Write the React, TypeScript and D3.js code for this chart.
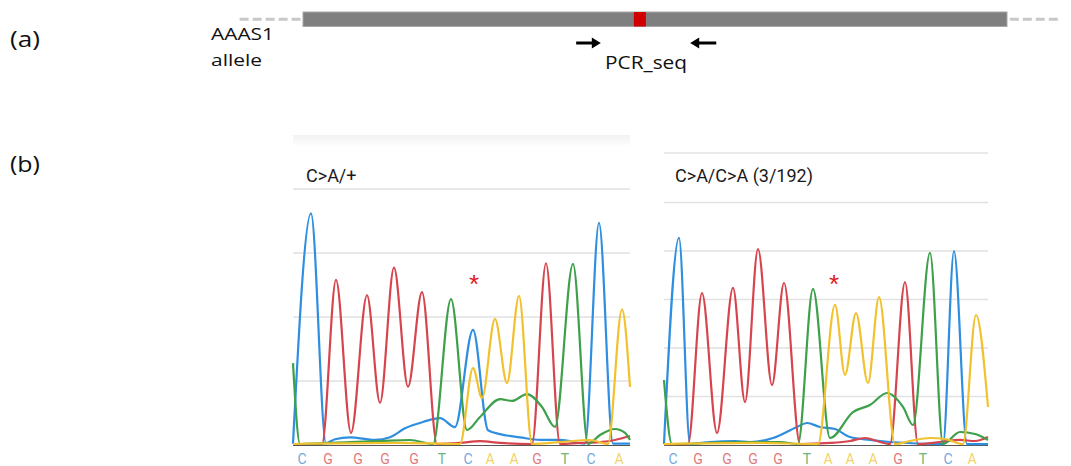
import React, { useEffect, useRef } from "react";
import * as d3 from "d3";

const W = 1071;
const H = 466;

// (a) AAAS1 allele map, positions in bp
const alleleSpan = [0, 1000];
const flankLeft = [-90, -2];
const flankRight = [1004, 1075];
const mutationSite = [470, 487];
const primerFwd = [388, 423];
const primerRev = [587, 550];

// (b) chromatograms, points are [scan, signal]
// heterozygous C>A/+
const hetBlue = [[0, 10], [9, 1810], [16.5, 15], [21, 45], [28.5, 60], [41, 40], [48.5, 60], [56, 130], [65, 180], [73.5, 210], [81, 140], [90, 900], [97.5, 115], [103.5, 85], [113.5, 60], [123.5, 40], [133.5, 40], [146, 10], [153, 1735], [160, 10], [168.5, 10]];
const hetRed = [[0, 8], [14.5, 8], [21.5, 1290], [29, 95], [37, 1170], [43.5, 330], [50.5, 1385], [57.5, 455], [64.5, 1195], [72, 8], [83.5, 16], [93.5, 30], [103.5, 16], [119.5, 8], [126.5, 1420], [133.5, 8], [143.5, 16], [153.5, 23], [161, 39], [168.5, 70]];
const hetGreen = [[0, 640], [3.5, 8], [28.5, 23], [43.5, 31], [58.5, 39], [70, 8], [79, 1140], [87, 117], [93.5, 219], [103.5, 359], [109.5, 344], [117, 398], [124.5, 297], [131, 141], [140, 1415], [147.5, 8], [153.5, 78], [161, 125], [166, 94], [168.5, 39]];
const hetYellow = [[0, 8], [53.5, 16], [83.5, 8], [90, 600], [94.5, 367], [101, 985], [107, 484], [113, 1165], [119.5, 8], [133.5, 23], [148.5, 39], [157.5, 8], [164.5, 1060], [168.5, 453]];
const hetCalls = ["C", "G", "G", "G", "G", "T", "C", "A", "A", "G", "T", "C", "A"];
const hetCallScan = [4.5, 17.5, 32.5, 46, 60.5, 74.5, 87.5, 98.5, 110.5, 122, 136, 149, 163];
const hetTicks = [500, 1000, 1500, 2000];

// homozygous C>A/C>A
const homBlue = [[0, 10], [7.5, 2135], [13, 10], [23, 31], [35.5, 41], [43, 31], [54.5, 72], [66.5, 186], [71.5, 227], [78, 186], [85.5, 165], [93, 82], [103, 52], [113, 31], [139.5, 10], [145, 2000], [151.5, 10], [162, 10]];
const homRed = [[0, 10], [12, 10], [19, 1565], [26.5, 124], [34.5, 1620], [40.5, 443], [47, 2020], [54, 619], [60, 1670], [68, 10], [83, 21], [93, 41], [100.5, 72], [108, 31], [113, 10], [120.5, 1680], [127, 10], [138, 31], [148, 52], [155.5, 41], [162, 82]];
const homGreen = [[0, 670], [4, 10], [38, 31], [58, 31], [67, 10], [74.5, 1610], [83, 72], [94.5, 340], [103, 412], [111.5, 536], [119.5, 392], [124.5, 206], [133, 1980], [139.5, 10], [148, 134], [155.5, 113], [162, 52]];
const homYellow = [[0, 10], [48, 21], [77, 10], [85.5, 1445], [90.5, 722], [96, 1360], [102, 639], [107.5, 1525], [115.5, 10], [123, 41], [133, 72], [140.5, 62], [149.5, 10], [156, 1340], [162, 392]];
const homCalls = ["C", "G", "G", "G", "G", "T", "A", "A", "A", "G", "T", "C", "A"];
const homCallScan = [4.5, 17, 31.5, 44.5, 57, 71.5, 82, 93, 104.5, 117, 129.5, 142, 154];
const homTicks = [500, 1000, 1500, 2000, 2500];

const traceColor = { A: "#f2c12e", C: "#2e8ee0", G: "#d6454d", T: "#3ea04a" };
const callColor = { A: "#f3d46a", C: "#72a9dc", G: "#e2797c", T: "#6fb577" };

export default function App() {
  const ref = useRef(null);

  useEffect(() => {
    const svg = d3.select(ref.current);
    svg.selectAll("*").remove();

    const defs = svg.append("defs");
    const fade = defs.append("linearGradient").attr("id", "headerFade")
      .attr("x1", 0).attr("y1", 0).attr("x2", 0).attr("y2", 1);
    fade.append("stop").attr("offset", "0%").attr("stop-color", "#f2f2f2");
    fade.append("stop").attr("offset", "100%").attr("stop-color", "#ffffff");

    // ---------- (a) ----------
    const labelFont = "'Open Sans', 'Noto Sans', sans-serif";
    const label = (txt, x, y, size, len) =>
      svg.append("text").attr("x", x).attr("y", y).attr("font-family", labelFont)
        .attr("font-weight", 400).attr("font-size", size).attr("fill", "#111")
        .attr("textLength", len).attr("lengthAdjust", "spacingAndGlyphs").text(txt);

    label("(a)", 10, 47, 21, 30);
    label("(b)", 10, 172, 21, 30);
    label("AAAS1", 211, 40, 16, 63);
    label("allele", 211, 66, 16, 51);
    label("PCR_seq", 605, 69, 19, 82);

    const gx = d3.scaleLinear().domain(alleleSpan).range([303, 1007]);
    const barTop = 12, barH = 14.5, barMid = barTop + barH / 2;

    [flankLeft, flankRight].forEach(f => {
      svg.append("line").attr("x1", gx(f[0])).attr("x2", gx(f[1]))
        .attr("y1", barMid).attr("y2", barMid)
        .attr("stroke", "#c8c8c8").attr("stroke-width", 3).attr("stroke-dasharray", "9,4");
    });
    svg.append("rect").attr("x", gx(alleleSpan[0])).attr("y", barTop)
      .attr("width", gx(alleleSpan[1]) - gx(alleleSpan[0])).attr("height", barH)
      .attr("fill", "#7f7f7f").attr("stroke", "#a8a8a8").attr("stroke-width", 1);
    svg.append("rect").attr("x", gx(mutationSite[0])).attr("y", barTop)
      .attr("width", gx(mutationSite[1]) - gx(mutationSite[0])).attr("height", barH)
      .attr("fill", "#d00000");

    const arrowY = 43;
    [primerFwd, primerRev].forEach(p => {
      const x0 = gx(p[0]), x1 = gx(p[1]);
      const dir = Math.sign(x1 - x0);
      const head = 9;
      svg.append("line").attr("x1", x0).attr("x2", x1 - dir * head + dir)
        .attr("y1", arrowY).attr("y2", arrowY).attr("stroke", "#000").attr("stroke-width", 3);
      svg.append("path")
        .attr("d", `M${x1},${arrowY} L${x1 - dir * head},${arrowY - 5.5} L${x1 - dir * head},${arrowY + 5.5} Z`)
        .attr("fill", "#000");
    });

    // ---------- (b) ----------
    const panels = [
      {
        left: 293, right: 630, top: 135, base: 445, plotTop: 189, scanMax: 168.5,
        ticks: hetTicks, title: "C>A/+", titleX: 306,
        traces: [["C", hetBlue], ["G", hetRed], ["T", hetGreen], ["A", hetYellow]],
        calls: hetCalls, callScan: hetCallScan, star: [90.5, 1290], headerFill: true,
      },
      {
        left: 664, right: 988, top: 153, base: 445, plotTop: 202.5, scanMax: 162,
        ticks: homTicks, title: "C>A/C>A (3/192)", titleX: 675,
        traces: [["C", homBlue], ["G", homRed], ["T", homGreen], ["A", homYellow]],
        calls: homCalls, callScan: homCallScan, star: [85, 1700], headerFill: false,
      },
    ];

    panels.forEach(p => {
      const x = d3.scaleLinear().domain([0, p.scanMax]).range([p.left, p.right]);
      const y = d3.scaleLinear().domain([0, d3.max(p.ticks)]).range([p.base, p.plotTop]);
      const g = svg.append("g");

      if (p.headerFill) {
        g.append("rect").attr("x", p.left).attr("y", p.top).attr("width", p.right - p.left)
          .attr("height", 12).attr("fill", "url(#headerFade)");
      } else {
        g.append("line").attr("x1", p.left).attr("x2", p.right).attr("y1", p.top).attr("y2", p.top)
          .attr("stroke", "#e2e2e2").attr("stroke-width", 1.5);
      }

      g.append("text").attr("x", p.titleX).attr("y", 182)
        .attr("font-family", "Roboto, 'Liberation Sans', sans-serif").attr("font-size", 18)
        .attr("fill", "#1a1a1a").text(p.title);

      g.selectAll(".grid").data(p.ticks).enter().append("line")
        .attr("x1", p.left).attr("x2", p.right)
        .attr("y1", d => y(d)).attr("y2", d => y(d))
        .attr("stroke", "#e1e1e1").attr("stroke-width", 1.5);

      g.append("line").attr("x1", p.left).attr("x2", p.right).attr("y1", p.base + 0.5).attr("y2", p.base + 0.5)
        .attr("stroke", "#555").attr("stroke-width", 1.2);

      const line = d3.line().x(d => x(d[0])).y(d => y(d[1])).curve(d3.curveMonotoneX);
      p.traces.forEach(([base, pts]) => {
        g.append("path").attr("d", line(pts)).attr("fill", "none")
          .attr("stroke", traceColor[base]).attr("stroke-width", 2.2)
          .attr("stroke-linejoin", "round");
      });

      g.append("text").attr("x", x(p.star[0])).attr("y", y(p.star[1]) + 13)
        .attr("text-anchor", "middle").attr("font-family", "'Liberation Sans', sans-serif")
        .attr("font-size", 26).attr("fill", "#e02020").text("*");

      g.selectAll(".call").data(p.calls).enter().append("text")
        .attr("x", (d, i) => x(p.callScan[i])).attr("y", 464)
        .attr("text-anchor", "middle").attr("font-family", "Roboto, sans-serif").attr("font-size", 14)
        .attr("fill", d => callColor[d]).text(d => d);
    });
  }, []);

  return (
    <svg ref={ref} width={W} height={H} style={{ position: "absolute", left: 0, top: 0, background: "#fff" }} />
  );
}
